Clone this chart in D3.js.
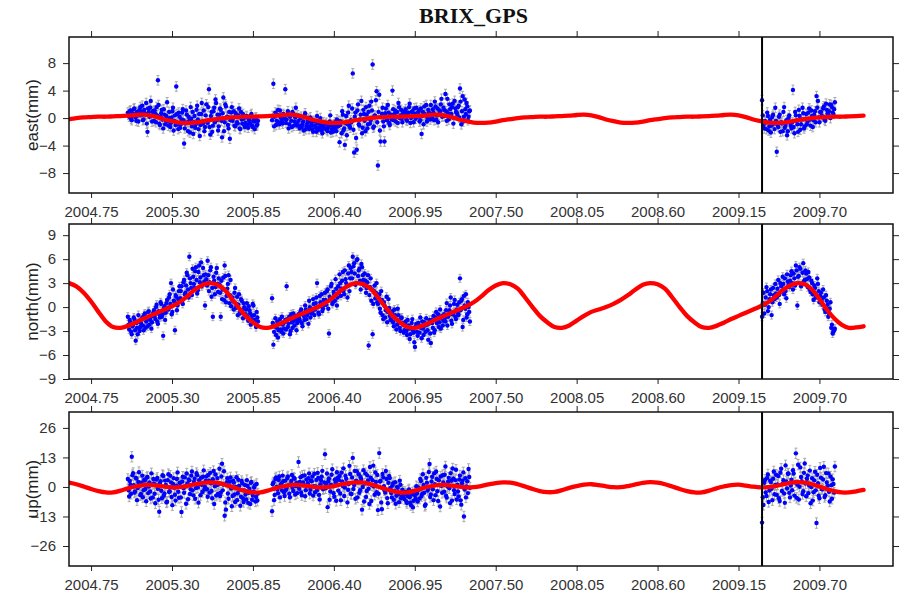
<!DOCTYPE html>
<html>
<head>
<meta charset="utf-8">
<script src="https://cdn.jsdelivr.net/npm/d3@7"></script>
<style>
html,body{margin:0;padding:0;background:#fff;}
svg{display:block;}
</style>
</head>
<body>
<svg id="chart" width="910" height="598"></svg>
<script>
// ---------------- DATA ----------------
const titleText = "BRIX_GPS";
const panelNames = ["east(mm)", "north(mm)", "up(mm)"];
const xTicks = [2004.75, 2005.30, 2005.85, 2006.40, 2006.95, 2007.50, 2008.05, 2008.60, 2009.15, 2009.70];
const xDomain = [2004.6, 2010.2];
const eastTicks = [-8, -4, 0, 4, 8];
const northTicks = [-9, -6, -3, 0, 3, 6, 9];
const upTicks = [-26, -13, 0, 13, 26];
const eastDomain = [-10.9, 11.8];
const northDomain = [-9, 10.4];
const upDomain = [-34.8, 33];
const breakYear = 2009.31;

// observation segments (start, end epochs in decimal years)
const segStarts = [2005.00, 2005.98, 2009.31];
const segEnds = [2005.88, 2007.32, 2009.80];

// formal errors (mm)
const eastSigma = 0.7, northSigma = 0.5, upSigma = 2.3;

// ---- east observations (two interleaved passes per segment) ----
const eastA = [
 0.8, 0.2, 1.1, -0.3, 0.6, 1.4, 0.1, 0.9, -0.5, 1.2,
 0.4, 1.8, -0.2, 0.7, 2.2, -2.0, 0.9, 1.5, 0.3, 1.0,
 -0.4, 0.6, 1.6, 5.5, -0.8, 0.2, 1.2, -1.5, 0.5, -0.3,
 2.3, -1.1, 0.0, -0.7, 1.0, -1.8, 0.4, 4.6, -0.9, 0.8,
 -1.4, -0.2, 1.3, -3.7, -0.8, 0.5, -1.9, -0.4, 1.6, -1.2,
 -2.3, 0.3, -0.9, 1.8, -1.6, -2.6, 0.6, -0.5, 1.1, -1.3,
 2.0, -0.7, 4.2, -2.4, 0.9, -1.1, 1.5, 2.7, -0.3, -1.8,
 0.5, 1.2, -2.8, 3.0, -0.6, 1.7, 0.2, -1.5, -3.0, 0.8,
 -0.4, 1.0, -1.2, 0.3, -0.8, 1.4, -1.6, -0.2, 0.6, -1.0,
 -0.7, 0.2, -1.4, -0.5, 0.4, -1.1, -0.3, -1.6, 0.1, -0.9
];
const eastA2 = [
 0.5, 1.0, -0.1, 0.7, 1.3, 0.3, -0.4, 0.9, 0.4, 1.6,
 0.9, -0.3, 1.2, 0.6, -0.8, 1.4, 0.2, 2.5, -0.5, 0.8,
 1.1, -0.6, 0.4, 1.9, -1.0, 0.7, -0.2, 1.3, -0.9, 0.3,
 -0.5, 0.9, -1.3, 0.1, 1.5, -0.4, -1.0, 0.6, -1.6, 0.2,
 -0.9, 0.8, -0.3, -1.5, 1.1, -0.6, 0.2, -2.1, -0.1, 0.9,
 -0.6, -1.4, 1.2, -0.2, 0.6, -1.0, 2.2, -0.8, -1.9, 0.4,
 -0.5, 1.6, -1.3, 0.3, -2.0, 1.0, -0.6, 2.2, 0.5, -1.2,
 1.4, -0.4, 0.7, -1.9, 2.0, 0.1, -1.0, 0.9, -0.3, 1.6,
 0.0, -1.1, 0.7, -0.6, 0.4, -1.5, 0.9, -0.8, -0.1, -1.3,
 0.3, -1.0, -0.2, -0.8, 0.6, -1.3, -0.5, 0.0, -1.1, -0.4
];
const eastB = [
 -0.3, 5.0, 0.2, -1.0, 0.5, -0.6, 1.1, 0.0, -0.8, 0.4,
 4.2, -0.2, 1.0, -0.9, 0.3, -1.3, 0.6, -0.5, 1.5, -1.1,
 -0.4, -1.5, 0.2, -0.9, -1.8, 0.7, -1.2, -0.3, -1.6, 0.1,
 -1.0, -2.0, -0.5, -1.4, 0.3, -1.7, -0.8, -1.3, -2.2, -0.6,
 -1.5, -0.7, -1.9, -1.1, 0.4, -1.6, -2.0, -0.9, -1.4, -0.2,
 -1.2, -3.5, -0.5, 1.0, -1.8, -3.9, 0.3, -0.9, 1.8, -1.4,
 -0.6, 6.5, -5.0, 0.8, -4.6, 2.0, -1.1, 0.5, -2.2, 1.2,
 -0.4, 1.6, -1.5, 0.9, -0.8, 2.4, 7.8, -1.2, 0.3, 3.9,
 -6.9, 3.4, -3.4, 0.6, -0.5, -3.4, 1.4, -0.2, 0.8, -1.0,
 0.5, 4.0, -0.3, 1.1, 0.2, -0.7, 1.6, 0.4, -0.1, 0.9,
 0.3, 1.3, -0.4, 0.8, 2.1, 0.0, 1.0, -0.6, 0.6, 1.5,
 0.2, 1.1, -0.3, -2.3, 0.9, 1.7, 0.4, -0.5, 1.2, 0.6,
 1.9, 0.1, 0.8, 2.4, -0.2, 1.4, 0.5, 1.0, 2.8, 0.3,
 1.2, 3.5, -0.4, 0.7, 2.0, 0.4, 1.6, -0.8, 2.5, 0.9,
 0.5, 1.8, 4.3, -0.9, 3.2, 0.2, 1.3, 2.2, -0.3, 1.0
];
const eastB2 = [
 0.3, -1.2, 0.8, -0.4, 1.2, -0.9, 0.1, -0.5, 0.6, -0.1,
 -0.7, 0.5, -1.5, 0.2, -0.4, 0.9, -1.1, 0.1, -0.8, 0.4,
 -1.1, 0.0, -1.3, -0.5, 0.3, -1.6, -0.8, -0.1, -1.2, -0.6,
 -1.6, -0.4, -1.1, -2.0, -0.8, -1.4, 0.0, -1.8, -1.0, -1.5,
 -0.9, -1.7, -1.3, -0.5, -2.1, -1.0, -1.5, -0.6, -1.9, -1.2,
 -0.4, -1.0, -2.2, 0.5, -1.5, -0.7, -2.5, 0.8, -1.1, -0.3,
 1.4, -1.7, 0.2, -2.9, 1.1, -0.9, -0.2, 2.5, -1.4, 0.6,
 -1.9, 0.5, -0.9, 1.8, -0.3, 1.1, -1.4, 0.4, 2.6, -0.6,
 0.9, -1.8, 0.2, 1.5, -1.2, 0.7, -0.3, 1.9, -0.7, 0.4,
 -0.2, 1.3, 0.6, -0.5, 0.9, 2.2, 0.0, 1.2, -0.6, 0.7,
 1.0, -0.2, 0.5, 1.6, -0.7, 0.9, 0.3, 1.4, -0.1, 0.7,
 0.8, -0.5, 1.4, 0.3, -0.9, 0.6, 1.9, 0.0, 0.9, -0.2,
 0.6, 1.3, -0.3, 1.7, 0.4, -0.6, 1.1, 2.0, 0.2, 1.5,
 0.3, 1.0, 2.8, -0.2, 1.3, 0.6, 2.1, 0.0, 1.4, 0.8,
 1.6, 0.1, 2.4, 1.0, -0.5, 2.7, 0.6, 1.7, 0.2, 1.1
];
const eastC = [
 2.6, -1.0, -0.4, -1.6, 0.3, -1.2, -2.1, 0.2, -0.8, 1.5,
 -4.9, -1.3, 0.5, -0.6, -1.9, 1.6, -1.0, -2.5, 0.0, -0.7,
 -1.5, 4.1, -2.2, 0.4, -0.9, 1.2, -1.7, -0.2, 0.7, -1.2,
 0.6, -0.5, 1.4, -1.1, 0.3, -0.3, 1.0, 3.2, 2.5, -0.6,
 0.9, 0.2, 1.7, -0.4, 1.2, 0.5, 2.0, 1.9, 0.8, 1.3
];
const eastC2 = [
 0.4, -1.5, -0.6, 0.8, -1.8, -0.2, -1.1, 0.5, -1.6, -0.4,
 -1.0, 0.2, -2.0, -0.8, 0.9, -1.4, -0.3, -1.9, 0.4, -1.1,
 -0.6, -1.3, 0.9, -0.4, -2.0, 0.3, -0.9, 1.5, -1.5, -0.1,
 -0.9, 0.8, -0.2, 1.1, -1.3, 0.5, -0.6, 1.5, 0.1, 0.9,
 0.4, 1.4, -0.2, 2.1, 0.7, 1.0, 0.0, 1.6, 0.6, 2.3
];

// ---- north observations ----
const northA = [
 -1.2, -2.8, -1.9, -3.4, -2.2, -1.5, -4.2, -2.6, -1.0, -3.0,
 -2.0, -1.3, -2.9, -0.8, -1.8, -2.4, -0.5, -1.6, -2.7, -1.1,
 -0.4, -1.5, 0.3, -2.1, -0.9, 0.6, -1.2, -3.6, 0.1, -0.7,
 0.9, -0.3, 1.6, 3.0, -0.6, 0.8, -2.9, 1.3, 0.2, 2.0,
 1.1, 2.6, 0.4, 3.4, 1.8, 4.3, 2.2, 6.3, 3.0, 1.5,
 3.8, 2.4, 5.0, 1.7, 4.4, 3.1, 5.6, 2.8, 4.0, 0.2,
 3.5, 5.8, 2.0, 4.6, 1.3, -1.2, 3.3, 2.5, 4.9, 1.9,
 2.8, -1.2, 1.0, 3.7, 5.2, 0.6, 2.3, 4.0, 1.5, 0.1,
 1.2, -0.3, 2.4, 0.4, -1.0, 1.6, -0.6, 0.8, -1.4, 0.0,
 -0.9, 0.5, -1.7, -0.4, -2.2, -1.1, 0.2, -1.6, -2.5, -1.3
];
const northA2 = [
 -2.2, -1.6, -3.1, -2.4, -1.3, -2.9, -2.0, -3.4, -1.8, -2.5,
 -1.5, -2.3, -1.0, -2.6, -1.4, -0.6, -2.2, -1.2, -1.9, -0.7,
 -1.1, 0.0, -1.8, -0.5, -1.3, 0.4, -0.9, -0.2, -1.6, 0.5,
 -0.1, 1.2, 0.4, -0.9, 2.2, 0.7, 1.5, -0.4, 1.0, 2.6,
 2.0, 0.8, 3.1, 1.6, 2.7, 4.0, 1.2, 3.6, 2.4, 4.8,
 2.9, 4.5, 3.4, 2.1, 5.2, 3.7, 2.6, 4.9, 3.2, 4.1,
 2.7, 4.0, 3.1, 5.0, 2.4, 3.8, 1.6, 4.3, 2.9, 3.6,
 1.8, 3.3, 2.2, 0.9, 3.9, 1.4, 2.9, 0.5, 3.4, 1.0,
 0.7, 1.8, -0.1, 1.3, 0.3, -0.8, 1.0, -0.4, 0.5, -1.1,
 -0.3, -1.2, 0.1, -0.8, -1.6, 0.4, -1.0, -2.0, -0.6, -1.8
];
const northB = [
 1.1, -4.7, -2.4, -3.5, -1.8, -2.9, -1.5, -3.1, -2.2, -2.7,
 -1.6, 2.6, -2.5, -1.2, -3.0, -1.9, -0.8, -2.3, -1.4, -2.0,
 -0.9, -1.7, -0.3, -2.4, -1.1, 0.2, -1.5, -0.6, 0.8, -1.3,
 -0.2, 1.0, -1.0, 0.5, 3.0, -0.7, 1.4, 0.1, -0.5, 0.9,
 1.8, 0.3, 2.2, -3.3, 1.1, 2.9, 0.6, 1.6, 3.5, 0.2,
 2.6, 4.1, 1.4, 3.3, 2.0, 4.6, 3.0, 1.2, 5.2, 3.6,
 4.4, 6.3, 5.5, 2.8, 5.9, 3.9, 4.8, 2.2, 5.0, 3.4,
 4.2, 1.8, 3.1, -4.8, 2.5, 0.8, -3.4, 2.0, 1.1, 3.0,
 0.4, 1.6, -0.7, 0.9, -1.5, 0.2, -0.4, -1.9, 1.0, -1.1,
 -1.6, -0.5, -2.4, -1.0, -2.8, -0.2, -1.9, -3.0, -1.3, -2.2,
 -2.9, -1.8, -3.5, -2.3, -4.0, -2.6, -1.5, -3.2, -5.0, -2.1,
 -3.6, -2.4, -1.3, -3.9, -2.7, -1.9, -3.1, -2.2, -4.1, -1.6,
 -4.5, -2.0, -1.1, -2.9, -0.6, -1.7, -2.5, -0.3, -1.4, -2.3,
 -0.9, -1.8, 0.5, -1.2, -0.4, 1.2, -2.1, -0.7, 0.9, -1.5,
 0.3, -1.0, 3.6, 0.8, -2.5, 1.4, -0.2, -1.3, 0.6, -0.6
];
const northB2 = [
 -2.0, -3.1, -1.4, -2.6, -3.8, -2.1, -2.8, -1.2, -3.3, -1.9,
 -2.8, -1.5, -2.1, -3.4, -0.9, -2.6, -1.7, -1.1, -2.9, -1.6,
 -1.4, -0.6, -2.0, -0.9, -1.6, -0.3, -1.0, -2.1, 0.0, -0.8,
 -0.6, 0.4, -0.3, 1.2, 0.0, -0.9, 0.6, 1.6, -0.2, 0.3,
 0.9, 2.0, -0.2, 1.3, 2.6, 0.4, 1.9, 0.8, 2.3, 1.2,
 1.8, 3.0, 2.3, 4.4, 1.6, 3.5, 2.6, 4.2, 2.0, 4.9,
 3.6, 5.1, 4.2, 3.0, 6.0, 4.6, 3.3, 5.4, 4.0, 2.7,
 3.3, 2.4, 4.0, 1.5, 3.6, 2.2, 0.4, 2.7, 1.8, 0.6,
 1.2, -0.2, 2.0, -1.0, 0.6, -1.3, 1.3, -0.6, -0.1, -1.6,
 -0.8, -1.9, -0.3, -1.5, -2.2, -1.0, -2.6, -1.4, -2.0, -3.2,
 -2.2, -3.0, -1.6, -2.7, -3.4, -2.0, -2.9, -4.4, -2.4, -3.1,
 -2.0, -3.2, -2.6, -1.8, -3.5, -2.3, -1.4, -2.9, -2.1, -3.3,
 -1.6, -2.6, -3.2, -1.3, -2.0, -0.9, -1.9, -2.7, -1.1, -1.7,
 -1.4, -0.4, -2.3, -1.0, 0.2, -1.7, -0.9, 0.4, -1.2, -0.3,
 -0.8, 0.6, -0.4, 1.0, -1.6, 0.2, 1.6, -0.9, 0.0, -1.8
];
const northC = [
 -1.2, 1.8, 0.3, 2.5, -0.5, 1.0, 2.2, 0.6, 1.5, 2.9,
 1.2, 3.4, 0.4, 2.6, 3.8, 1.6, 2.0, 4.1, 2.8, 3.3,
 4.5, 2.2, 3.6, 5.2, 0.2, 3.9, 4.8, 2.9, 5.5, 3.4,
 4.2, 2.5, 3.7, 1.9, 3.0, 0.9, 2.4, 1.5, 2.9, 0.6,
 1.8, 0.3, 1.2, -0.6, 0.8, -1.2, -0.2, -2.6, -3.3, -2.9
];
const northC2 = [
 0.5, -0.8, 1.2, 2.0, 0.0, 1.6, -1.0, 2.4, 1.0, 1.7,
 2.3, 1.5, 3.0, 2.0, 2.9, 3.6, 1.1, 3.2, 2.5, 4.0,
 3.0, 4.2, 2.7, 4.6, 3.8, 5.0, 2.6, 4.3, 3.2, 4.6,
 3.5, 4.4, 2.2, 3.3, 1.6, 2.7, 1.2, 3.6, 2.0, 1.4,
 0.9, 2.2, -0.3, 1.5, 0.3, -0.8, 0.6, -2.2, -3.0, -2.7
];

// ---- up observations ----
const upA = [
 3.5, -4.2, 1.0, 13.3, 6.1, -2.5, 4.0, -5.8, 2.2, 0.5,
 -3.1, 5.0, -1.4, 2.8, -6.3, 4.4, 0.2, -2.0, 6.0, -4.6,
 1.5, -7.2, 3.3, -0.8, -10.9, 2.5, -5.0, 4.8, -2.9, 0.9,
 -6.5, 5.6, -1.9, 2.0, -8.0, 3.9, -3.4, 0.6, 6.4, -4.8,
 1.8, -11.0, 4.5, -2.6, 0.3, 5.9, -5.4, 2.9, -1.0, 6.8,
 -3.7, 3.6, -0.5, 5.2, -6.9, 1.4, 4.1, -2.2, 7.3, 0.0,
 4.6, -4.3, 2.7, 6.2, -1.8, 3.4, -7.5, 5.5, 0.8, -3.0,
 8.0, -2.5, 10.2, 1.1, -12.7, -10.0, 3.8, -5.2, 2.4, -0.7,
 -4.0, 1.9, -6.6, 4.3, -2.8, 0.4, -8.3, 2.6, -5.0, -1.5,
 -3.3, 3.0, -7.0, -0.9, 1.8, -5.6, -2.1, 0.7, -4.4, -6.0
];
const upA2 = [
 -1.5, 2.6, -3.0, 5.2, 0.8, -2.0, 3.7, -0.5, 6.5, -3.6,
 1.9, -4.5, 3.2, -0.9, 4.1, -2.7, 2.0, -5.1, 1.0, 3.5,
 -3.0, 0.7, 4.0, -5.6, 1.6, -1.7, 5.2, -3.9, 2.8, -6.8,
 3.0, -2.2, 4.9, -4.4, 1.3, -0.3, -6.0, 3.5, -2.1, 1.8,
 -4.6, 2.4, -0.6, 4.2, -7.4, 1.5, 3.3, -3.1, 5.0, -1.5,
 2.2, -5.2, 6.1, -0.2, 3.0, -3.6, 1.0, 4.5, -1.1, 2.6,
 -1.0, 5.3, -2.5, 1.6, -5.0, 7.0, 0.3, -3.8, 3.9, 1.2,
 -4.0, 4.6, -1.5, 6.9, -6.8, 2.1, -2.9, 0.5, 4.2, -8.5,
 2.8, -3.3, 0.0, -5.8, 3.2, -1.2, -4.3, 1.6, -6.6, 0.9,
 -5.5, 0.4, -2.6, -7.5, 2.2, -3.8, -0.2, -6.4, 1.3, -2.9
];
const upB = [
 -10.7, 2.0, -3.5, 4.2, -1.0, 3.1, -4.6, 1.5, 5.0, -2.3,
 2.8, -0.5, 4.6, -3.0, 1.2, 5.3, -1.8, 3.6, 0.4, -2.7,
 11.0, 2.2, -2.4, 4.9, 0.8, -4.1, 3.3, 1.6, 6.0, -1.2,
 2.5, -3.8, 5.8, 0.2, -1.5, 4.0, -5.5, 2.9, 7.1, -0.6,
 14.4, 1.1, -8.9, 3.7, -2.0, 5.4, 0.6, -4.3, 2.1, 6.5,
 -1.6, 4.8, -5.9, 2.4, 8.2, -0.3, 3.6, -6.8, 1.3, 5.7,
 -3.1, 12.8, 0.9, -5.2, 6.9, 2.0, -2.6, 4.3, -10.0, 7.4,
 1.5, -4.4, 5.1, -0.8, 8.8, -6.2, 3.0, 0.2, 6.4, -2.3,
 -10.2, 14.9, 2.6, -9.8, 4.2, -1.4, 7.0, -4.9, 1.8, 3.9,
 -2.7, 0.6, -5.6, 2.1, -3.9, -0.4, -6.7, 1.0, -4.2, -2.0,
 -5.3, -3.0, -7.1, -1.6, -4.5, -8.0, -2.4, -6.1, -3.6, 0.3,
 -6.4, -1.2, 3.5, -4.0, 5.6, -2.6, -7.7, 1.9, -0.8, 10.1,
 -3.3, 4.5, -5.8, 1.2, 6.8, -1.9, 3.0, -8.6, 0.5, 5.2,
 -2.1, 9.0, -4.7, 2.3, -0.6, 6.1, -6.0, 3.7, -3.1, 7.6,
 1.0, -4.2, 5.0, -7.8, 2.8, -13.0, 3.9, 0.2, -2.7, 4.4
];
const upB2 = [
 1.2, -5.8, 3.5, 0.0, -2.8, 4.6, 0.9, -1.5, 2.5, -4.0,
 -1.3, 3.9, 0.7, -4.5, 2.6, -0.2, 4.1, -3.3, 1.8, 0.5,
 -0.8, 4.3, -3.6, 2.0, 5.1, -1.4, 0.6, 3.8, -2.9, 2.7,
 4.6, 0.3, -2.4, 3.1, 6.2, -3.5, 1.2, 4.5, -1.0, 2.0,
 -0.6, 5.9, 2.5, -5.6, 1.0, 7.8, -2.8, 3.3, -6.1, 4.0,
 3.1, -2.9, 6.3, 0.4, -4.0, 4.9, 1.7, -1.3, 9.3, -3.0,
 4.2, -0.9, 7.1, 2.7, -4.6, 5.6, -1.4, 3.2, 0.0, -6.4,
 6.0, -1.8, 2.9, -7.5, 4.1, 0.7, 9.4, -3.4, 2.2, 5.3,
 -3.0, 2.4, -6.8, 5.7, 0.3, -2.5, 3.5, -7.2, 4.8, -0.4,
 -4.6, 1.7, -1.8, -7.4, 0.0, -3.1, 2.8, -5.0, -1.2, -3.7,
 -2.2, -6.4, -4.0, -1.1, -6.9, -3.3, -9.0, -1.9, -5.2, -2.9,
 -0.2, -5.1, 2.6, -3.0, 0.9, -8.3, 4.0, -1.6, 6.6, -4.4,
 2.4, -1.0, 6.0, -3.6, 3.5, -6.2, 0.8, 4.6, -2.6, 2.0,
 5.4, -3.9, 0.2, 4.0, -7.1, 2.7, 8.1, -1.4, 3.0, -5.5,
 -2.0, 3.3, -5.9, 1.6, 6.4, -1.1, -4.6, 2.5, 7.9, -0.4
];
const upC = [
 -15.7, -7.9, 3.1, -4.0, 5.5, -1.6, 2.2, -5.8, 6.8, 0.9,
 -3.5, 4.8, -6.2, 8.0, 1.4, -2.9, 9.5, -0.7, 5.9, -4.6,
 3.2, 7.4, -3.8, 14.8, 1.0, -5.5, 8.6, 2.5, -1.9, 10.3,
 -4.1, 5.0, 0.6, -7.2, 3.8, -2.3, 6.7, -15.9, 1.6, -5.0,
 4.1, -1.0, 8.9, -3.6, 2.0, 6.0, -6.4, 0.8, 3.4, -2.5
];
const upC2 = [
 -4.5, 1.8, -2.4, 4.0, -6.6, 2.7, -0.8, 3.6, -3.2, 5.4,
 1.1, -5.0, 6.3, -1.8, 3.0, -7.0, 2.4, 5.8, -2.6, 0.6,
 -1.4, 5.9, 2.0, -4.8, 9.8, 0.1, 4.4, -3.1, 6.2, 1.5,
 3.6, -2.8, 7.2, 0.0, -6.0, 2.9, -1.5, 5.4, -3.9, 8.4,
 -0.9, 3.3, -4.4, 6.1, 0.5, -2.1, 4.6, -5.2, 1.3, 9.0
];

// ---- seasonal model curves, sampled every 0.05 yr from 2004.60 to 2010.00 ----
const curveStart = 2004.60, curveStep = 0.05;
const eastCurve = [
 -0.15, 0.0, 0.1, 0.15, 0.2, 0.2, 0.25, 0.3, 0.35, 0.45, 0.5, 0.4, 0.15, -0.2, -0.45, -0.65, -0.7, -0.65, -0.5, -0.3,
 -0.15, 0.0, 0.1, 0.15, 0.2, 0.2, 0.25, 0.3, 0.35, 0.45, 0.5, 0.4, 0.15, -0.2, -0.45, -0.65, -0.7, -0.65, -0.5, -0.3,
 -0.15, 0.0, 0.1, 0.15, 0.2, 0.2, 0.25, 0.3, 0.35, 0.45, 0.5, 0.4, 0.15, -0.2, -0.45, -0.65, -0.7, -0.65, -0.5, -0.3,
 -0.15, 0.0, 0.1, 0.15, 0.2, 0.2, 0.25, 0.3, 0.35, 0.45, 0.5, 0.4, 0.15, -0.2, -0.45, -0.65, -0.7, -0.65, -0.5, -0.3,
 -0.15, 0.0, 0.1, 0.15, 0.2, 0.2, 0.25, 0.3, 0.35, 0.45, 0.5, 0.4, 0.15, -0.2, -0.45, -0.65, -0.7, -0.65, -0.5, -0.3,
 -0.15, 0.0, 0.1, 0.15, 0.2, 0.2, 0.25, 0.3, 0.35
];
const northCurve = [
 3.0, 2.6, 1.8, 0.7, -0.6, -1.8, -2.5, -2.6, -2.35, -1.95, -1.5, -1.1, -0.7, -0.3, 0.1, 0.6, 1.3, 2.1, 2.7, 3.0,
 2.85, 2.3, 1.2, 0.0, -1.1, -1.9, -2.5, -2.6, -2.35, -1.95, -1.5, -1.1, -0.7, -0.3, 0.1, 0.6, 1.3, 2.1, 2.7, 3.0,
 2.85, 2.3, 1.2, 0.0, -1.1, -1.9, -2.5, -2.6, -2.35, -1.95, -1.5, -1.1, -0.7, -0.3, 0.1, 0.6, 1.3, 2.1, 2.7, 3.0,
 2.85, 2.3, 1.2, 0.0, -1.1, -1.9, -2.5, -2.6, -2.3, -1.7, -1.1, -0.6, -0.3, 0.0, 0.4, 0.9, 1.5, 2.2, 2.8, 3.0,
 2.85, 2.3, 1.2, 0.0, -1.1, -1.9, -2.5, -2.6, -2.35, -1.95, -1.5, -1.1, -0.7, -0.3, 0.1, 0.6, 1.3, 2.1, 2.7, 3.0,
 2.85, 2.2, 1.0, -0.3, -1.4, -2.2, -2.6, -2.55, -2.4
];
const upCurve = [
 1.9, 1.2, 0.2, -0.9, -1.8, -2.4, -2.4, -1.6, -0.6, 0.2, 0.8, 0.9, 0.6, 0.1, -0.2, -0.1, 0.4, 1.1, 1.7, 2.0,
 1.9, 1.2, 0.2, -0.9, -1.8, -2.4, -2.4, -1.6, -0.6, 0.2, 0.8, 0.9, 0.6, 0.1, -0.2, -0.1, 0.4, 1.1, 1.7, 2.0,
 1.9, 1.2, 0.2, -0.9, -1.8, -2.4, -2.4, -1.6, -0.6, 0.2, 0.8, 0.9, 0.6, 0.1, -0.2, -0.1, 0.4, 1.1, 1.7, 2.0,
 1.9, 1.2, 0.2, -0.9, -1.8, -2.3, -2.2, -1.4, -0.4, 0.4, 1.0, 1.2, 0.8, 0.3, -0.1, -0.1, 0.4, 1.1, 1.8, 2.1,
 1.9, 1.2, 0.2, -0.9, -1.8, -2.4, -2.4, -1.6, -0.6, 0.2, 0.8, 1.0, 0.6, 0.1, -0.2, -0.1, 0.4, 1.1, 1.8, 2.1,
 1.9, 1.2, 0.2, -0.9, -1.8, -2.4, -2.4, -1.9, -1.3
];

// ---------------- DRAWING ----------------
const svg = d3.select("#chart");
const fontSans = "'Liberation Sans', Arial, Helvetica, sans-serif";
const left = 69, right = 893;
const panelBoxes = [
  {top: 37, bottom: 193},
  {top: 224, bottom: 379},
  {top: 412, bottom: 566}
];
const panelData = [
  {obs: [[eastA, eastA2], [eastB, eastB2], [eastC, eastC2]], curve: eastCurve, ticks: eastTicks, domain: eastDomain, sigma: eastSigma},
  {obs: [[northA, northA2], [northB, northB2], [northC, northC2]], curve: northCurve, ticks: northTicks, domain: northDomain, sigma: northSigma},
  {obs: [[upA, upA2], [upB, upB2], [upC, upC2]], curve: upCurve, ticks: upTicks, domain: upDomain, sigma: upSigma}
];

const x = d3.scaleLinear().domain(xDomain).range([left, right]);

svg.append("text")
  .attr("x", 473.5).attr("y", 23)
  .attr("text-anchor", "middle")
  .attr("font-family", "'Liberation Serif', 'Times New Roman', serif")
  .attr("font-weight", "bold")
  .attr("font-size", 22)
  .attr("fill", "#111")
  .text(titleText);

panelData.forEach((p, pi) => {
  const box = panelBoxes[pi];
  const y = d3.scaleLinear().domain(p.domain).range([box.bottom, box.top]);
  const g = svg.append("g");

  const clipId = "clip" + pi;
  svg.append("clipPath").attr("id", clipId)
    .append("rect").attr("x", left).attr("y", box.top)
    .attr("width", right - left).attr("height", box.bottom - box.top);

  const plot = g.append("g").attr("clip-path", `url(#${clipId})`);

  // observations: pass 0 on the grid, pass 1 offset by half a sample
  const pts = [];
  p.obs.forEach((passes, si) => {
    const t0 = segStarts[si], t1 = segEnds[si];
    passes.forEach((vals, k) => {
      const n = vals.length;
      const dt = (t1 - t0) / (n - 1);
      vals.forEach((v, i) => {
        pts.push({t: t0 + dt * (i + 0.5 * k), v: v});
      });
    });
  });

  const eb = plot.append("g").attr("stroke", "#a0a0a0").attr("stroke-width", 0.9);
  eb.selectAll("line.bar").data(pts).join("line").attr("class", "bar")
    .attr("x1", d => x(d.t)).attr("x2", d => x(d.t))
    .attr("y1", d => y(d.v - p.sigma)).attr("y2", d => y(d.v + p.sigma));
  eb.selectAll("line.capt").data(pts).join("line").attr("class", "capt")
    .attr("x1", d => x(d.t) - 1.5).attr("x2", d => x(d.t) + 1.5)
    .attr("y1", d => y(d.v + p.sigma)).attr("y2", d => y(d.v + p.sigma));
  eb.selectAll("line.capb").data(pts).join("line").attr("class", "capb")
    .attr("x1", d => x(d.t) - 1.5).attr("x2", d => x(d.t) + 1.5)
    .attr("y1", d => y(d.v - p.sigma)).attr("y2", d => y(d.v - p.sigma));

  plot.append("g").selectAll("circle").data(pts).join("circle")
    .attr("cx", d => x(d.t)).attr("cy", d => y(d.v))
    .attr("r", 2.2).attr("fill", "#0000ff");

  // model curve
  const cpts = p.curve.map((v, i) => ({t: curveStart + curveStep * i, v: v}));
  plot.append("path").datum(cpts)
    .attr("fill", "none").attr("stroke", "#ff0000").attr("stroke-width", 4.3)
    .attr("stroke-linejoin", "round").attr("stroke-linecap", "round")
    .attr("d", d3.line().x(d => x(d.t)).y(d => y(d.v)).curve(d3.curveCatmullRom));

  // break line
  g.append("line")
    .attr("x1", x(breakYear)).attr("x2", x(breakYear))
    .attr("y1", box.top).attr("y2", box.bottom)
    .attr("stroke", "#000").attr("stroke-width", 2);

  // axes
  const yfmt = d3.format("d");
  const axL = g.append("g").attr("transform", `translate(${left},0)`)
    .call(d3.axisLeft(y).tickValues(p.ticks).tickSize(6).tickSizeOuter(0).tickPadding(7).tickFormat(yfmt));
  const axR = g.append("g").attr("transform", `translate(${right},0)`)
    .call(d3.axisRight(y).tickValues(p.ticks).tickSize(6).tickSizeOuter(0).tickFormat(""));
  const axT = g.append("g").attr("transform", `translate(0,${box.top})`)
    .call(d3.axisTop(x).tickValues(xTicks).tickSize(6).tickSizeOuter(0).tickFormat(""));
  const axB = g.append("g").attr("transform", `translate(0,${box.bottom})`)
    .call(d3.axisBottom(x).tickValues(xTicks).tickSize(5).tickSizeOuter(0).tickPadding(8).tickFormat(d => d.toFixed(2)));

  [axL, axR, axT, axB].forEach(a => {
    a.select(".domain").remove();
    a.selectAll(".tick line").attr("stroke", "#222").attr("stroke-width", 1);
    a.selectAll(".tick text").attr("font-family", fontSans).attr("font-size", 15).attr("fill", "#333");
  });

  // frame
  g.append("rect")
    .attr("x", left).attr("y", box.top)
    .attr("width", right - left).attr("height", box.bottom - box.top)
    .attr("fill", "none").attr("stroke", "#111").attr("stroke-width", 1.5);

  // axis title
  const cy = (box.top + box.bottom) / 2;
  g.append("text")
    .attr("transform", `translate(38,${cy}) rotate(-90)`)
    .attr("text-anchor", "middle")
    .attr("font-family", fontSans)
    .attr("font-size", 17)
    .attr("fill", "#222")
    .text(panelNames[pi]);
});
</script>
</body>
</html>
